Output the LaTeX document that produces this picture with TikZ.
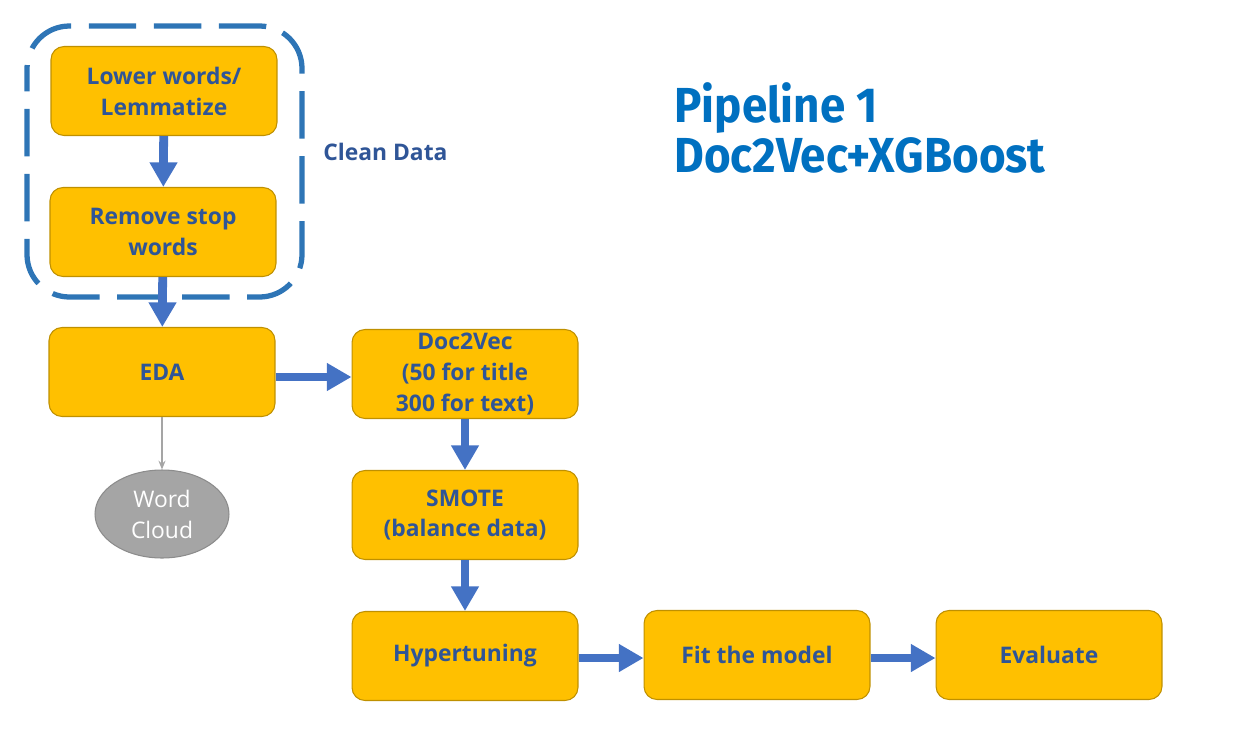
\documentclass[tikz,border=0pt]{standalone}
\usepackage{fontspec}
\setmainfont{Open Sans}
\newfontfamily\titlefont[FakeStretch=0.93]{Fira Sans}
\usetikzlibrary{arrows.meta,shapes.geometric}
\definecolor{boxfill}{HTML}{FFC000}
\definecolor{boxdraw}{HTML}{BF9000}
\definecolor{boxtext}{HTML}{2F5597}
\definecolor{arrowblue}{HTML}{4472C4}
\definecolor{dashblue}{HTML}{2E75B6}
\definecolor{titleblue}{HTML}{0070C0}
\definecolor{cloudfill}{HTML}{A5A5A5}
\definecolor{cloudline}{HTML}{8C8C8C}
\tikzset{
  px/.style={x=0.02cm,y=-0.02cm},
  stepbox/.style={draw=boxdraw, line width=0.6pt, fill=boxfill, rounded corners=0.26cm,
    minimum width=4.52cm, minimum height=1.78cm, inner sep=0pt,
    align=center, text=boxtext, font=\fontsize{13}{17.6}\selectfont\bfseries},
  bigarrow/.style={draw=arrowblue, line width=5pt,
    -{Triangle[length=14pt,width=15pt]}, shorten <=0pt, shorten >=0pt},
  thinarrow/.style={draw=cloudfill, line width=0.7pt, -{Stealth[length=5pt,width=4pt]}},
}
\begin{document}
\begin{tikzpicture}[px]
\useasboundingbox (0,0) rectangle (1240,734);
% dashed cleaning group
\draw[dashblue, line width=3pt, dash pattern=on 27pt off 10pt, dash phase=14pt, rounded corners=0.85cm]
  (27,26) rectangle (302,297);
\node[stepbox] (lower) at (164,91) {Lower words/\\Lemmatize};
\node[stepbox] (stop) at (163,232) {Remove stop\\words};
\node[stepbox] (eda) at (162,372) {EDA};
\node[stepbox] (d2v) at (465,374) {Doc2Vec\\(50 for title\\300 for text)};
\node[stepbox] (smote) at (465,515) {SMOTE\\(balance data)};
\node[stepbox] (hyper) at (465,656) {Hypertuning};
\node[stepbox] (fit) at (757,655) {Fit the model};
\node[stepbox] (eval) at (1049,655) {Evaluate};
\node[ellipse, draw=cloudline, line width=0.6pt, fill=cloudfill, minimum width=2.68cm, minimum height=1.76cm,
  inner sep=0pt, align=center, text=white, font=\fontsize{13}{17.6}\selectfont] (cloud) at (162,514) {Word\\Cloud};
\node[anchor=west, text=boxtext, font=\fontsize{13}{15}\selectfont\bfseries, inner sep=0pt] (clean) at (323,152) {Clean Data};
\node[anchor=north west, text=titleblue, align=left, inner sep=0pt,
  font=\titlefont\fontsize{28}{28.5}\selectfont\bfseries] (title) at (674,82) {Pipeline 1\\Doc2Vec+XGBoost};
% connectors
\draw[bigarrow] (lower) -- (stop);
\draw[bigarrow] (stop) -- (eda);
\draw[bigarrow] (eda.east |- 0,377) -- (d2v.west |- 0,377);
\draw[bigarrow] (d2v) -- (smote);
\draw[bigarrow] (smote) -- (hyper);
\draw[bigarrow] (hyper.east |- 0,658) -- (fit.west |- 0,658);
\draw[bigarrow] (fit.east |- 0,658) -- (eval.west |- 0,658);
\draw[thinarrow] (eda) -- (cloud);
\end{tikzpicture}
\end{document}
